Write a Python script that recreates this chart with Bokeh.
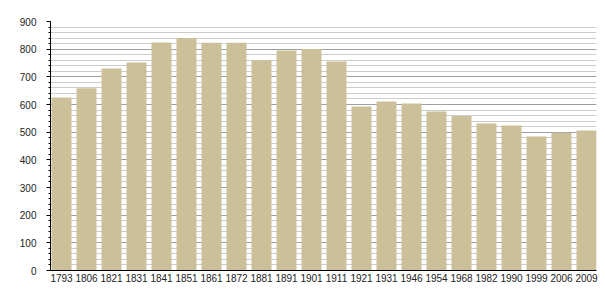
from bokeh.plotting import figure
from bokeh.models import Range1d, FixedTicker, ColumnDataSource
from bokeh.embed import file_html
from bokeh.resources import INLINE

years = ["1793", "1806", "1821", "1831", "1841", "1851", "1861", "1872", "1881", "1891",
         "1901", "1911", "1921", "1931", "1946", "1954", "1968", "1982", "1990", "1999",
         "2006", "2009"]
population = [625, 659, 730, 752, 824, 840, 823, 823, 760, 795,
              801, 755, 593, 611, 604, 575, 558, 531, 524, 484,
              498, 506]
y_ticks = [0, 100, 200, 300, 400, 500, 600, 700, 800, 900]

idx = list(range(len(years)))
src = ColumnDataSource(dict(x=idx, top=population))

p = figure(width=605, height=300, output_backend="svg", toolbar_location=None,
           x_range=Range1d(-0.44, len(years) - 0.6), y_range=Range1d(0, 900),
           min_border_left=50, min_border_right=9, min_border_top=21, min_border_bottom=30)
p.outline_line_color = None
p.background_fill_color = "white"

p.vbar(x="x", top="top", width=0.8, source=src, fill_color="#cbc09a", line_color=None)

# axes
p.yaxis.ticker = FixedTicker(ticks=y_ticks, minor_ticks=list(range(0, 901, 20)))
p.yaxis.major_tick_out = 4
p.yaxis.major_tick_in = 0
p.yaxis.minor_tick_out = 2
p.yaxis.minor_tick_in = 0
p.yaxis.major_label_standoff = 10
p.yaxis.axis_line_color = "black"
p.yaxis.major_tick_line_color = "black"
p.yaxis.minor_tick_line_color = "black"

p.xaxis.ticker = FixedTicker(ticks=idx)
p.xaxis.major_label_overrides = {i: y for i, y in enumerate(years)}
p.xaxis.major_tick_out = 0
p.xaxis.major_tick_in = 0
p.xaxis.minor_tick_line_color = None
p.xaxis.major_label_standoff = 3
p.xaxis.axis_line_color = "black"

for ax in (p.xaxis, p.yaxis):
    ax.major_label_text_font = "Liberation Sans"
    ax.major_label_text_font_size = "10px"
    ax.major_label_text_color = "#222222"

# grid
p.xgrid.grid_line_color = None
p.ygrid.grid_line_color = "#a0a0a0"
p.ygrid.grid_line_width = 1
p.ygrid.minor_grid_line_color = "#cccccc"
p.ygrid.level = "underlay"

open("out.html", "w").write(file_html(p, INLINE))
